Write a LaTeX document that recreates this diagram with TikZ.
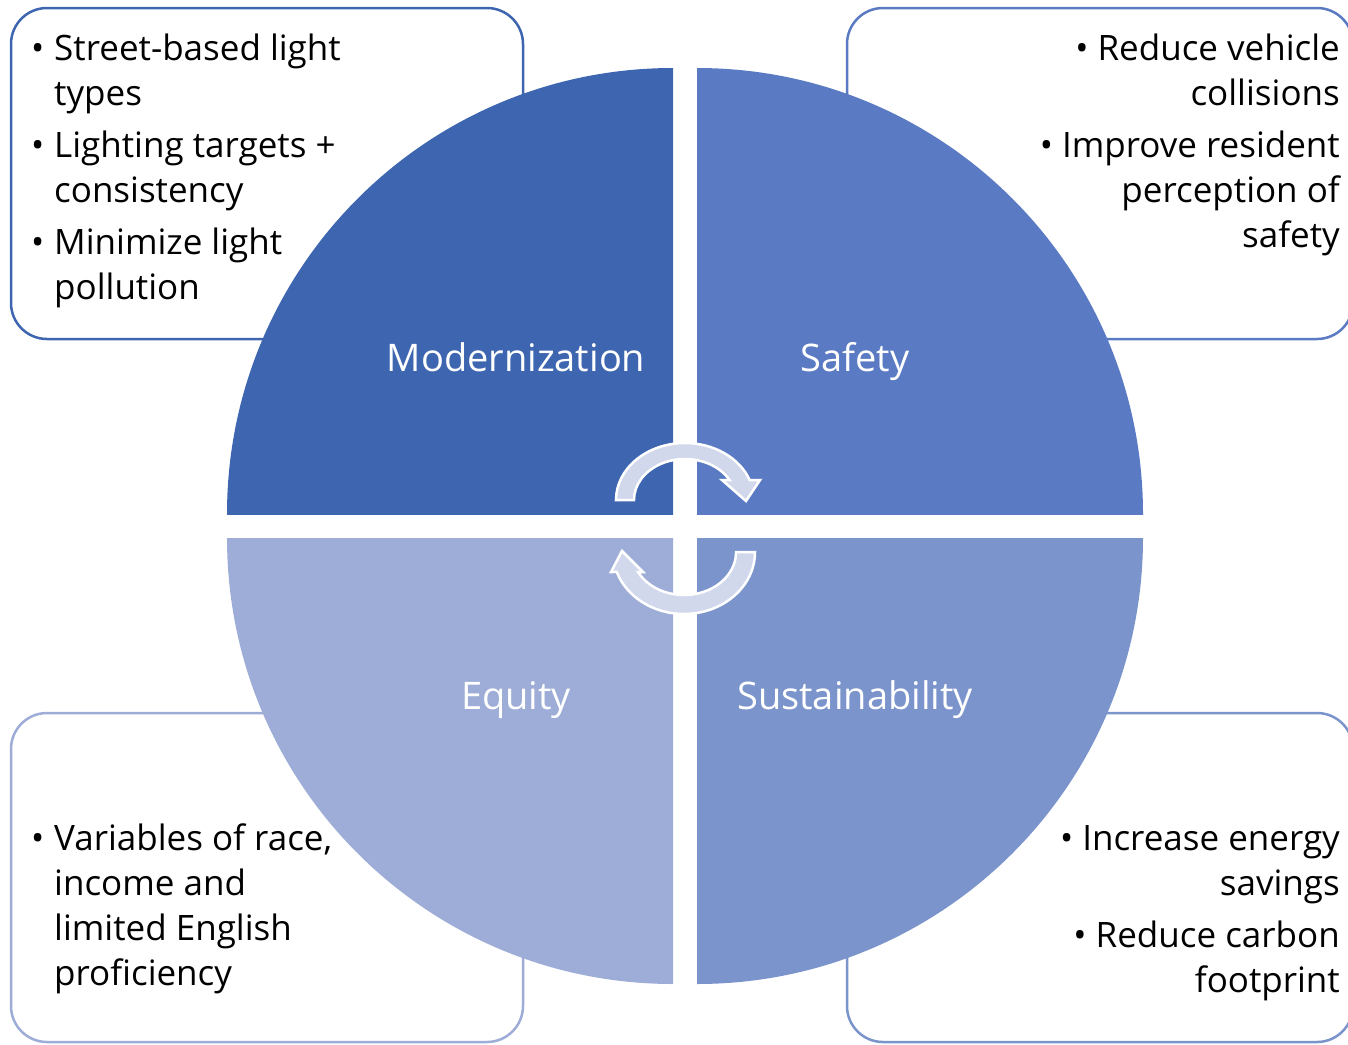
\documentclass[tikz,border=0pt]{standalone}
\usepackage{fontspec}
\setmainfont{Open Sans}
\definecolor{cMod}{HTML}{3E66B0}
\definecolor{cSaf}{HTML}{5A7BC3}
\definecolor{cSus}{HTML}{7B94CB}
\definecolor{cEq}{HTML}{9EADD7}
\definecolor{cArr}{HTML}{D1D8EC}
\begin{document}
\begin{tikzpicture}[x=1pt,y=-1pt,
  box/.style={line width=2.5pt, rounded corners=36pt, fill=white},
  lbl/.style={text=white, font=\fontsize{38}{45}\selectfont, inner sep=0pt, anchor=base},
  txt/.style={font=\fontsize{35}{45}\selectfont, inner sep=0pt},
  cyc/.style={fill=cArr, draw=white, line width=2.5pt, line join=miter}]
\useasboundingbox (0,0) rectangle (1348,1044);
% boxes
\draw[box, draw=cMod] (11,8) rectangle (523,339);
\draw[box, draw=cSaf] (847,8) rectangle (1353,339);
\draw[box, draw=cEq] (11,713) rectangle (523,1042);
\draw[box, draw=cSus] (847,713) rectangle (1353,1042);
% quadrants
\begin{scope}\clip (227,60) rectangle (673,514); \fill[cMod] (673,514) circle[radius=446]; \end{scope}
\begin{scope}\clip (697,60) rectangle (1150,514); \fill[cSaf] (697,514) circle[radius=446]; \end{scope}
\begin{scope}\clip (227,538) rectangle (673,990); \fill[cEq] (673,538) circle[radius=446]; \end{scope}
\begin{scope}\clip (697,538) rectangle (1150,990); \fill[cSus] (697,538) circle[radius=446]; \end{scope}
% cycle arrows
\draw[cyc] (616,500) arc[start angle=180, end angle=339.5, x radius=69, y radius=57] -- (760,480) -- (746,501) -- (722,480) -- (729.5,480) arc[start angle=330.8, end angle=180, x radius=51, y radius=41] -- cycle;
\draw[cyc] (755,552) arc[start angle=0, end angle=161.2, x radius=71, y radius=62] -- (611,572) -- (622,551) -- (643,572) -- (638,572) arc[start angle=152.3, end angle=0, x radius=52, y radius=43] -- cycle;
% labels
\node[lbl] (mod) at (516,371) {Modernization};
\node[lbl] (saf) at (855,371) {Safety};
\node[lbl] (equ) at (516,709) {Equity};
\node[lbl] (sus) at (855,709) {Sustainability};
% texts
\node[txt, anchor=north west] (tlText) at (31,29) {\begin{tabular}{@{}l@{}l@{}}\makebox[23pt][l]{•} & Street-based light\\ & types\\[7pt] \makebox[23pt][l]{•} & Lighting targets +\\ & consistency\\[7pt] \makebox[23pt][l]{•} & Minimize light\\ & pollution\end{tabular}};
\node[txt, anchor=north east] (trText) at (1340,29) {\begin{tabular}{@{}r@{}}• Reduce vehicle\\ collisions\\[7pt] • Improve resident\\ perception of\\ safety\end{tabular}};
\node[txt, anchor=north west] (blText) at (31,818.5) {\begin{tabular}{@{}l@{}l@{}}\makebox[23pt][l]{•} & Variables of race,\\ & income and\\ & limited English\\ & proficiency\end{tabular}};
\node[txt, anchor=north east] (brText) at (1340,818.5) {\begin{tabular}{@{}r@{}}• Increase energy\\ savings\\[7pt] • Reduce carbon\\ footprint\end{tabular}};
\end{tikzpicture}
\end{document}
